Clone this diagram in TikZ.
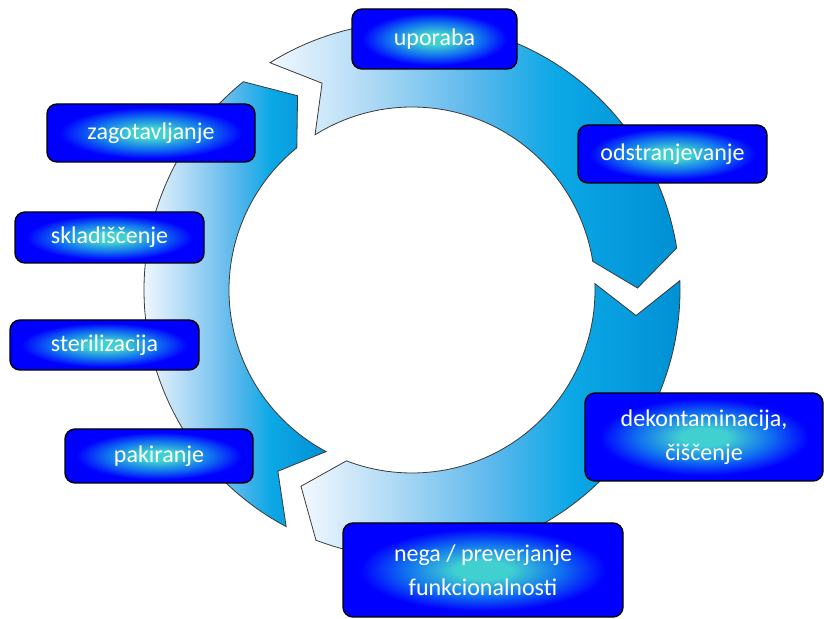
\documentclass[tikz,border=0pt]{standalone}
\usepackage{fontspec}
\setmainfont{Carlito}

% ring colours, light on the left to deep blue on the right
\definecolor{ringA}{HTML}{F2F8FE}
\definecolor{ringB}{HTML}{B0DAF5}
\definecolor{ringC}{HTML}{5CB8EC}
\definecolor{ringD}{HTML}{0CA8E6}
\definecolor{ringE}{HTML}{0090D4}
\definecolor{ringline}{HTML}{3A3A3A}
% stage boxes: blue with a turquoise glow in the middle
\definecolor{glowC}{HTML}{40D0D0}
\definecolor{glowB}{HTML}{1070F0}
\definecolor{boxblue}{HTML}{0000FF}

\pgfdeclarehorizontalshading{ringshade}{100bp}{%
  color(0bp)=(ringA); color(25bp)=(ringA); color(37bp)=(ringB);
  color(50bp)=(ringC); color(60bp)=(ringD); color(75bp)=(ringE);
  color(100bp)=(ringE)}
\pgfdeclareradialshading{boxglow}{\pgfpoint{0bp}{0bp}}{%
  color(0bp)=(glowC); color(5bp)=(glowC); color(14bp)=(glowB);
  color(22bp)=(boxblue); color(50bp)=(boxblue)}

\tikzset{
  ringpart/.style={shade, shading=ringshade, draw=ringline, line width=0.8pt, line join=miter},
  stage/.style={draw=black, line width=1.4pt, rounded corners=10pt, shade, shading=boxglow,
    text=white, font=\fontsize{24}{34}\selectfont, align=center, inner sep=0pt}
}

% one curved segment of the cycle: notch at angle #1, pointed end past angle #2
\newcommand{\ringarrow}[2]{%
  \path[ringpart]
    ([shift={(c)}]#1:268) arc[start angle=#1, end angle=#2, radius=268]
    -- ([shift={(c)}]#2-8.5:225.5)
    -- ([shift={(c)}]#2:183) arc[start angle=#2, end angle=#1, radius=183]
    -- ([shift={(c)}]#1-8.5:225.5) -- cycle;}

\begin{document}
\begin{tikzpicture}[x=1pt,y=1pt]
\useasboundingbox (0,0) rectangle (824,618);
\coordinate (c) at (412,328);

% the three segments of the cycle
\ringarrow{122}{9}
\ringarrow{2}{-111}
\ringarrow{242}{129}

% stages, clockwise from the top
\node[stage, minimum width=165, minimum height=60] (uporaba) at (434.5,579) {uporaba};
\node[stage, minimum width=189, minimum height=58] (odstr) at (672.5,464) {odstranjevanje};
\node[stage, minimum width=238, minimum height=88] (dekon) at (704,181) {dekontaminacija,\\čiščenje};
\node[stage, minimum width=280, minimum height=94] (nega) at (483,48) {nega / preverjanje\\funkcionalnosti};
\node[stage, minimum width=188, minimum height=54] (pakir) at (159,162) {pakiranje};
\node[stage, minimum width=189, minimum height=50] (steril) at (104.5,273) {sterilizacija};
\node[stage, minimum width=189, minimum height=51] (sklad) at (109.5,380.5) {skladiščenje};
\node[stage, minimum width=208, minimum height=58] (zagot) at (151,485) {zagotavljanje};
\end{tikzpicture}
\end{document}
